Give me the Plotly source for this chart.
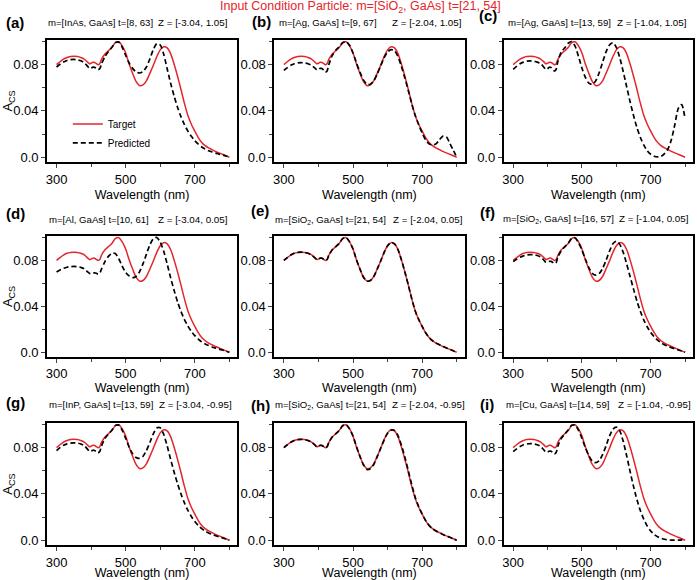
import plotly.graph_objects as go

# ---------------- data ----------------
WL = [300, 310, 320, 330, 340, 350, 360, 370, 380, 390, 395, 400, 405, 410, 415, 420, 425, 430,
      440, 450, 460, 470, 480, 490, 500, 510, 520, 530, 540, 550, 560, 570, 580, 590, 600, 610,
      620, 630, 640, 650, 660, 670, 680, 690, 700, 710, 720, 730, 740, 750, 760, 770, 780, 790, 800]

TARGET = [0.0800, 0.0825, 0.0847, 0.0862, 0.0870, 0.0872, 0.0870, 0.0862, 0.0848, 0.0822, 0.0808,
          0.0812, 0.0820, 0.0819, 0.0810, 0.0800, 0.0808, 0.0845, 0.0893, 0.0920, 0.0948, 0.0990,
          0.0998, 0.0962, 0.0900, 0.0805, 0.0725, 0.0655, 0.0620, 0.0625, 0.0660, 0.0725, 0.0795,
          0.0870, 0.0928, 0.0955, 0.0945, 0.0895, 0.0805, 0.0700, 0.0585, 0.0465, 0.0360, 0.0285,
          0.0225, 0.0170, 0.0128, 0.0100, 0.0080, 0.0065, 0.0050, 0.0037, 0.0025, 0.0012, 0.0000]

PRED_A = [0.0780, 0.0803, 0.0822, 0.0836, 0.0843, 0.0845, 0.0842, 0.0834, 0.0818, 0.0785, 0.0768,
          0.0770, 0.0778, 0.0777, 0.0768, 0.0757, 0.0765, 0.0805, 0.0870, 0.0915, 0.0950, 0.0990,
          0.0995, 0.0950, 0.0880, 0.0815, 0.0768, 0.0738, 0.0728, 0.0740, 0.0780, 0.0850, 0.0930,
          0.0982, 0.0970, 0.0890, 0.0765, 0.0640, 0.0530, 0.0432, 0.0350, 0.0282, 0.0225, 0.0180,
          0.0142, 0.0112, 0.0088, 0.0070, 0.0056, 0.0045, 0.0035, 0.0027, 0.0019, 0.0010, 0.0000]

PRED_B = [0.0750, 0.0775, 0.0795, 0.0808, 0.0815, 0.0817, 0.0815, 0.0808, 0.0795, 0.0770, 0.0755,
          0.0758, 0.0768, 0.0766, 0.0752, 0.0735, 0.0745, 0.0800, 0.0880, 0.0925, 0.0955, 0.0990,
          0.1000, 0.0968, 0.0900, 0.0815, 0.0735, 0.0668, 0.0632, 0.0630, 0.0660, 0.0720, 0.0790,
          0.0860, 0.0910, 0.0930, 0.0920, 0.0870, 0.0785, 0.0685, 0.0575, 0.0460, 0.0360, 0.0280,
          0.0210, 0.0150, 0.0115, 0.0105, 0.0115, 0.0150, 0.0182, 0.0175, 0.0120, 0.0060, 0.0000]

PRED_C = [0.0760, 0.0785, 0.0808, 0.0822, 0.0830, 0.0832, 0.0830, 0.0822, 0.0808, 0.0775, 0.0758,
          0.0765, 0.0778, 0.0776, 0.0760, 0.0745, 0.0760, 0.0830, 0.0910, 0.0945, 0.0985, 0.1000,
          0.0960, 0.0870, 0.0770, 0.0690, 0.0640, 0.0630, 0.0660, 0.0730, 0.0820, 0.0910, 0.0970,
          0.0990, 0.0950, 0.0860, 0.0740, 0.0610, 0.0480, 0.0360, 0.0255, 0.0170, 0.0105, 0.0055,
          0.0025, 0.0008, 0.0002, 0.0006, 0.0030, 0.0070, 0.0150, 0.0280, 0.0420, 0.0455, 0.0330]

PRED_D = [0.0700, 0.0717, 0.0731, 0.0741, 0.0746, 0.0748, 0.0746, 0.0740, 0.0728, 0.0700, 0.0688,
          0.0685, 0.0690, 0.0692, 0.0688, 0.0682, 0.0690, 0.0725, 0.0790, 0.0835, 0.0862, 0.0860,
          0.0815, 0.0750, 0.0695, 0.0665, 0.0650, 0.0660, 0.0700, 0.0770, 0.0855, 0.0935, 0.0990,
          0.1000, 0.0960, 0.0880, 0.0770, 0.0650, 0.0540, 0.0440, 0.0355, 0.0285, 0.0228, 0.0182,
          0.0145, 0.0115, 0.0090, 0.0072, 0.0058, 0.0046, 0.0036, 0.0027, 0.0019, 0.0010, 0.0000]

PRED_E = [0.0800, 0.0825, 0.0847, 0.0862, 0.0870, 0.0872, 0.0870, 0.0862, 0.0848, 0.0822, 0.0808,
          0.0812, 0.0820, 0.0819, 0.0810, 0.0800, 0.0808, 0.0845, 0.0893, 0.0920, 0.0948, 0.0990,
          0.0998, 0.0962, 0.0900, 0.0805, 0.0725, 0.0655, 0.0620, 0.0625, 0.0660, 0.0725, 0.0795,
          0.0870, 0.0928, 0.0955, 0.0945, 0.0895, 0.0805, 0.0700, 0.0585, 0.0465, 0.0360, 0.0285,
          0.0225, 0.0170, 0.0128, 0.0100, 0.0080, 0.0065, 0.0050, 0.0037, 0.0025, 0.0012, 0.0000]

PRED_F = [0.0790, 0.0810, 0.0828, 0.0840, 0.0848, 0.0851, 0.0850, 0.0843, 0.0830, 0.0800, 0.0784,
          0.0785, 0.0792, 0.0792, 0.0783, 0.0772, 0.0782, 0.0830, 0.0885, 0.0918, 0.0950, 0.0992,
          0.0995, 0.0955, 0.0890, 0.0810, 0.0738, 0.0688, 0.0672, 0.0685, 0.0730, 0.0800, 0.0880,
          0.0945, 0.0968, 0.0940, 0.0870, 0.0770, 0.0660, 0.0550, 0.0445, 0.0355, 0.0280, 0.0220,
          0.0172, 0.0135, 0.0105, 0.0083, 0.0066, 0.0052, 0.0040, 0.0030, 0.0020, 0.0010, 0.0000]

PRED_G = [0.0775, 0.0800, 0.0820, 0.0833, 0.0840, 0.0842, 0.0840, 0.0832, 0.0818, 0.0785, 0.0768,
          0.0770, 0.0778, 0.0776, 0.0766, 0.0755, 0.0766, 0.0815, 0.0880, 0.0918, 0.0950, 0.0992,
          0.0995, 0.0950, 0.0880, 0.0805, 0.0748, 0.0715, 0.0708, 0.0725, 0.0775, 0.0845, 0.0920,
          0.0970, 0.0972, 0.0915, 0.0815, 0.0700, 0.0590, 0.0490, 0.0400, 0.0322, 0.0258, 0.0205,
          0.0162, 0.0127, 0.0100, 0.0079, 0.0063, 0.0050, 0.0039, 0.0029, 0.0020, 0.0010, 0.0000]

PRED_H = [0.0800, 0.0825, 0.0847, 0.0862, 0.0870, 0.0872, 0.0870, 0.0862, 0.0848, 0.0822, 0.0808,
          0.0812, 0.0820, 0.0819, 0.0810, 0.0800, 0.0808, 0.0845, 0.0893, 0.0920, 0.0948, 0.0990,
          0.0998, 0.0962, 0.0900, 0.0808, 0.0725, 0.0652, 0.0612, 0.0618, 0.0655, 0.0722, 0.0795,
          0.0868, 0.0925, 0.0952, 0.0948, 0.0905, 0.0820, 0.0718, 0.0600, 0.0478, 0.0370, 0.0290,
          0.0226, 0.0170, 0.0128, 0.0100, 0.0080, 0.0065, 0.0050, 0.0037, 0.0025, 0.0012, 0.0000]

PRED_I = [0.0765, 0.0790, 0.0810, 0.0825, 0.0832, 0.0835, 0.0833, 0.0825, 0.0810, 0.0778, 0.0760,
          0.0762, 0.0770, 0.0769, 0.0758, 0.0745, 0.0758, 0.0815, 0.0880, 0.0918, 0.0952, 0.0993,
          0.0995, 0.0950, 0.0880, 0.0800, 0.0732, 0.0685, 0.0670, 0.0688, 0.0740, 0.0815, 0.0900,
          0.0960, 0.0978, 0.0945, 0.0855, 0.0730, 0.0595, 0.0465, 0.0350, 0.0255, 0.0180, 0.0122,
          0.0080, 0.0050, 0.0030, 0.0017, 0.0008, 0.0003, 0.0001, 0.0000, 0.0000, 0.0003, 0.0018]

PREDICTED = [PRED_A, PRED_B, PRED_C, PRED_D, PRED_E, PRED_F, PRED_G, PRED_H, PRED_I]
LETTERS = ["(a)", "(b)", "(c)", "(d)", "(e)", "(f)", "(g)", "(h)", "(i)"]
SUB_LEFT = ["m=[InAs, GaAs] t=[8, 63]", "m=[Ag, GaAs] t=[9, 67]", "m=[Ag, GaAs] t=[13, 59]",
            "m=[Al, GaAs] t=[10, 61]", "m=[SiO<sub>2</sub>, GaAs] t=[21, 54]",
            "m=[SiO<sub>2</sub>, GaAs] t=[16, 57]", "m=[InP, GaAs] t=[13, 59]",
            "m=[SiO<sub>2</sub>, GaAs] t=[21, 54]", "m=[Cu, GaAs] t=[14, 59]"]
SUB_RIGHT = ["Z = [-3.04, 1.05]", "Z = [-2.04, 1.05]", "Z = [-1.04, 1.05]",
             "Z = [-3.04, 0.05]", "Z = [-2.04, 0.05]", "Z = [-1.04, 0.05]",
             "Z = [-3.04, -0.95]", "Z = [-2.04, -0.95]", "Z = [-1.04, -0.95]"]
TITLE = "Input Condition Particle: m=[SiO<sub>2</sub>, GaAs] t=[21, 54]"
X_TICKS = [300, 500, 700]
Y_TICKS = [0.0, 0.04, 0.08]
Y_TICKTEXT = ["0.0", "0.04", "0.08"]

# ---------------- layout geometry (px) ----------------
W, H = 697, 580
COLS = [(45, 236), (273, 464), (503, 693)]
ROWS = [(40, 163), (237, 359), (425, 548)]
SUB_L_X = [44, 276, 505, 45, 272, 500, 45, 272, 503]
SUB_R_X = [229, 463, 689, 229, 464, 691, 233, 466, 693]
SUB_Y = [23, 23, 23, 221, 221, 220, 407, 407, 407]
LET_X = [2, 249, 476, 2, 248, 477, 2, 248, 477]
LET_Y = [23, 22, 16, 215, 212, 214, 405, 408, 407]

FONT = "Arial, Liberation Sans, Helvetica, sans-serif"
RED = "#e3262b"


def px(x):
    return x / W


def py(y):
    return 1 - y / H


fig = go.Figure()
annotations = []
for i in range(9):
    r, c = divmod(i, 3)
    sfx = "" if i == 0 else str(i + 1)
    xa, ya = "x" + sfx, "y" + sfx
    fig.add_trace(go.Scatter(x=WL, y=TARGET, xaxis=xa, yaxis=ya, mode="lines",
                             line=dict(color=RED, width=1.5, shape="spline", smoothing=0.7),
                             name="Target", showlegend=(i == 0), legendgroup="t"))
    fig.add_trace(go.Scatter(x=WL, y=PREDICTED[i], xaxis=xa, yaxis=ya, mode="lines",
                             line=dict(color="black", width=1.7, dash="5px,3px",
                                       shape="spline", smoothing=0.7),
                             name="Predicted", showlegend=(i == 0), legendgroup="p"))
    x0, x1 = COLS[c]
    y0, y1 = ROWS[r]
    xaxis = dict(domain=[px(x0), px(x1)], anchor=ya, range=[272, 823],
                 tickvals=X_TICKS, ticks="outside", ticklen=4, tickwidth=1.2,
                 showline=True, mirror=True, linecolor="black", linewidth=1.5,
                 showgrid=False, zeroline=False,
                 tickfont=dict(size=13, color="black", family=FONT),
                 minor=dict(tickvals=[400, 600, 800], ticks="outside", ticklen=3,
                            tickwidth=1.2, showgrid=False),
                 title=dict(text="Wavelength (nm)", font=dict(size=12.5, color="black", family=FONT),
                            standoff=5 if r == 0 else 0))
    yaxis = dict(domain=[py(y1), py(y0)], anchor=xa, range=[-0.0043, 0.1015],
                 tickvals=Y_TICKS, ticktext=Y_TICKTEXT, ticks="outside", ticklen=4, tickwidth=1.2,
                 showline=True, mirror=True, linecolor="black", linewidth=1.5,
                 showgrid=False, zeroline=False,
                 tickfont=dict(size=13, color="black", family=FONT),
                 minor=dict(tickvals=[0.02, 0.06, 0.10], ticks="outside", ticklen=3,
                            tickwidth=1.2, showgrid=False))
    if c == 0:
        yaxis["title"] = dict(text="A<sub>CS</sub>", font=dict(size=13, color="black", family=FONT),
                              standoff=4)
    fig.layout["xaxis" + sfx] = xaxis
    fig.layout["yaxis" + sfx] = yaxis

    annotations.append(dict(x=px(LET_X[i]), y=py(LET_Y[i]), xref="paper", yref="paper",
                            text="<b>" + LETTERS[i] + "</b>", showarrow=False,
                            xanchor="left", yanchor="middle",
                            font=dict(size=15, color="black", family=FONT)))
    annotations.append(dict(x=px(SUB_L_X[i]), y=py(SUB_Y[i]), xref="paper", yref="paper",
                            text=SUB_LEFT[i], showarrow=False, xanchor="left", yanchor="middle",
                            font=dict(size=9.6, color="black", family=FONT)))
    annotations.append(dict(x=px(SUB_R_X[i]), y=py(SUB_Y[i]), xref="paper", yref="paper",
                            text=SUB_RIGHT[i], showarrow=False, xanchor="right", yanchor="middle",
                            font=dict(size=9.8, color="black", family=FONT)))

annotations.append(dict(x=px(360), y=py(7), xref="paper", yref="paper", text=TITLE,
                        showarrow=False, xanchor="center", yanchor="middle",
                        font=dict(size=12.5, color=RED, family=FONT)))

fig.update_layout(
    width=W, height=H, margin=dict(l=0, r=0, t=0, b=0),
    paper_bgcolor="white", plot_bgcolor="white",
    font=dict(family=FONT, color="black"),
    annotations=annotations,
    showlegend=True,
    legend=dict(x=px(66), y=py(110), xanchor="left", yanchor="top",
                bgcolor="rgba(0,0,0,0)", font=dict(size=10, color="black", family=FONT),
                tracegroupgap=0, itemwidth=30),
)

fig.write_html("out.html")
